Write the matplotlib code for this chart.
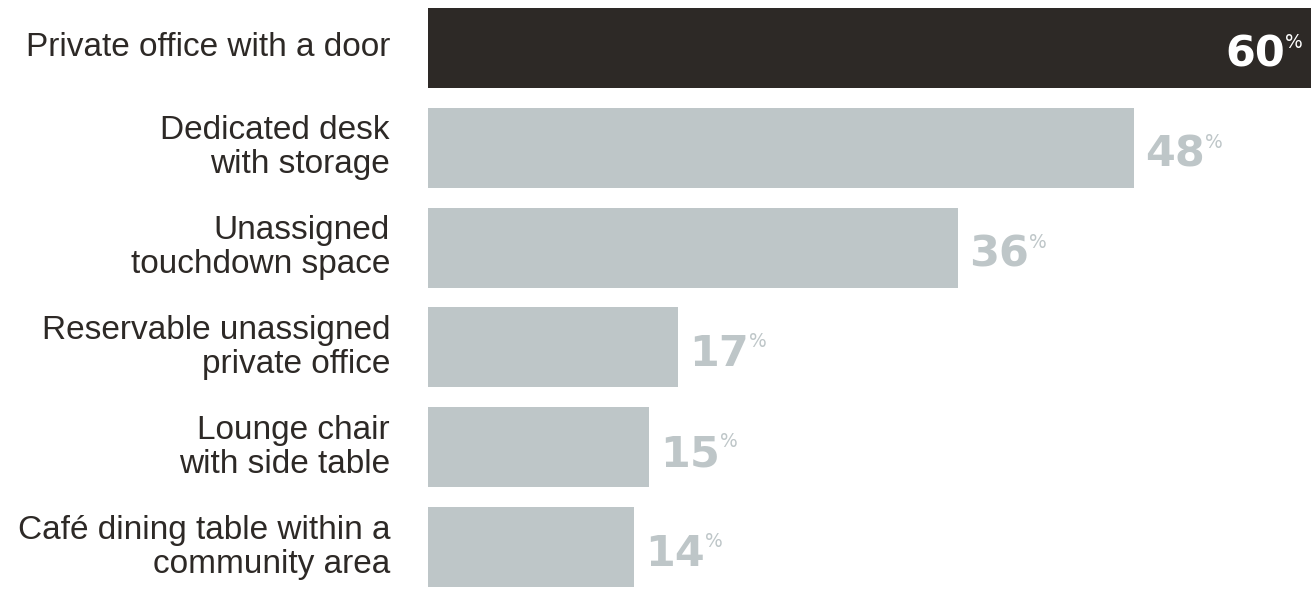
import matplotlib
matplotlib.use("Agg")
import matplotlib.pyplot as plt

# workspace preferences, share of respondents
labels = [
    "Private office with a door",
    "Dedicated desk\nwith storage",
    "Unassigned\ntouchdown space",
    "Reservable unassigned\nprivate office",
    "Lounge chair\nwith side table",
    "Café dining table within a\ncommunity area",
]
values = [60, 48, 36, 17, 15, 14]

DARK = "#2d2926"
GREY = "#bec6c8"


def draw_chart():
    fig = plt.figure(figsize=(13.11, 5.9), dpi=100)
    ax = fig.add_axes([428 / 1311, 0, 1 - 428 / 1311, 1])

    ypos = list(range(len(values)))
    colors = [DARK] + [GREY] * (len(values) - 1)
    ax.barh(ypos, values, height=0.8, color=colors, linewidth=0)

    ax.set_xlim(0, max(values))
    ax.set_ylim(5.43, -0.48)
    ax.axis("off")

    for i, (lab, val) in enumerate(zip(labels, values)):
        # category name to the left of the bar
        ax.annotate(lab, xy=(0, i), xytext=(-38, 0), textcoords="offset pixels",
                    ha="right", va="center", multialignment="right",
                    fontsize=24, family="Liberation Sans", color=DARK,
                    linespacing=1.12, annotation_clip=False)

        # value with small raised percent sign
        if i == 0:
            num = ax.annotate(str(val), xy=(val, i), xytext=(-26, -19),
                              textcoords="offset pixels", ha="right", va="baseline",
                              fontsize=31, fontweight="bold", family="DejaVu Sans",
                              color="white", annotation_clip=False)
            pct_color = "white"
        else:
            num = ax.annotate(str(val), xy=(val, i), xytext=(11, -19),
                              textcoords="offset pixels", ha="left", va="baseline",
                              fontsize=31, fontweight="bold", family="DejaVu Sans",
                              color=GREY, annotation_clip=False)
            pct_color = GREY
        ax.annotate("%", xy=(1, 1), xycoords=num, xytext=(0, 1),
                    textcoords="offset pixels", ha="left", va="top",
                    fontsize=13.5, family="DejaVu Sans", color=pct_color,
                    annotation_clip=False)

    fig.savefig("out.png", dpi=100)


if __name__ == "__main__":
    draw_chart()
